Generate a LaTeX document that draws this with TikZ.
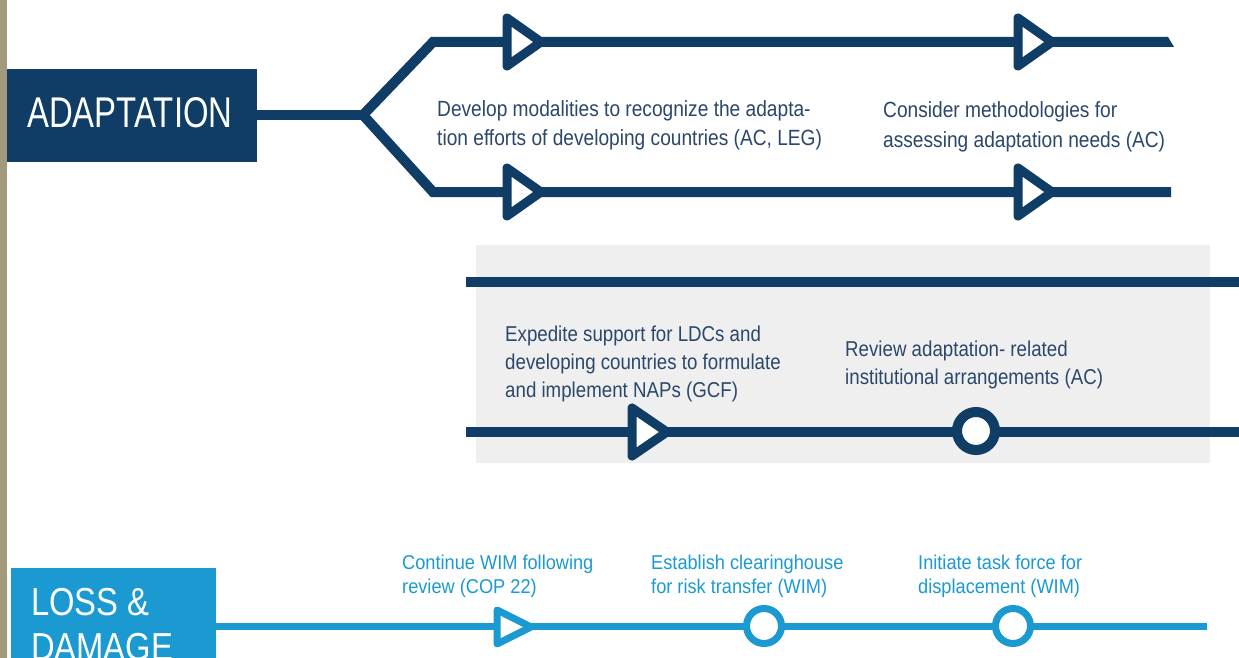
\documentclass[tikz,border=0pt]{standalone}
\usepackage{fontspec}
\setmainfont{Liberation Sans}
\newfontfamily\bodyf[FakeStretch=0.87]{Liberation Sans}
\newfontfamily\lossf[FakeStretch=0.91]{Liberation Sans}
\newfontfamily\titlef[FakeStretch=0.765]{Liberation Sans}
\newfontfamily\losstitlef[FakeStretch=0.84]{Liberation Sans}
\definecolor{navy}{HTML}{0F3D66}
\definecolor{textnavy}{HTML}{2B476A}
\definecolor{lossblue}{HTML}{1B9AD2}
\definecolor{panelgrey}{HTML}{EFEFEF}
\definecolor{strip}{HTML}{A39A7B}
\newcommand{\mlines}[1]{\begin{tabular}[t]{@{}l@{}}#1\end{tabular}}
\begin{document}
\begin{tikzpicture}[x=1pt,y=-1pt,
  navyline/.style={draw=navy,line width=10pt},
  lossline/.style={draw=lossblue,line width=7pt},
  tri/.style={draw=navy,line width=9pt,fill=white,line join=round},
  losstri/.style={draw=lossblue,line width=7pt,fill=white,line join=round},
  ring/.style={circle,draw=navy,line width=10pt,fill=white,minimum size=38pt,inner sep=0pt},
  lossring/.style={circle,draw=lossblue,line width=7pt,fill=white,minimum size=35pt,inner sep=0pt},
  body/.style={anchor=base west,inner sep=0pt,text=textnavy,font={\bodyf\fontsize{22}{29}\selectfont}},
  losstext/.style={anchor=base west,inner sep=0pt,text=lossblue,font={\lossf\fontsize{20}{24.5}\selectfont}},
  titletext/.style={anchor=base west,inner sep=0pt,text=white},
]
\useasboundingbox (0,0) rectangle (1239,658);
\fill[white] (0,0) rectangle (1239,658);
% left strip
\fill[strip] (0,0) rectangle (7,658);
% grey panel
\fill[panelgrey] (476,245) rectangle (1210,463);

% ADAPTATION box
\node[fill=navy,minimum width=250pt,minimum height=93pt,anchor=north west,inner sep=0pt] (adapt) at (7,69) {};
\node[titletext,font={\titlef\fontsize{43}{45}\selectfont}] (adaptlabel) at (27,128) {ADAPTATION};

% branching lines
\coordinate (fork) at (363,115);
\coordinate (upcorner) at (433,42);
\coordinate (lowcorner) at (433,192);
\coordinate (upend) at (1168,42);
\coordinate (lowend) at (1171,192);
\draw[navyline] (adapt.east |- fork) -- (fork);
\draw[navyline,line join=miter] (fork) -- (upcorner) -- (upend);
\draw[navyline,line join=miter] (fork) -- (lowcorner) -- (lowend);
\fill[navy] (1167,37) -- (1168,37) -- (1174,47) -- (1167,47) -- cycle;

% triangles on the branches
\draw[tri] (507,18) -- (507,66) -- (541,42) -- cycle;
\draw[tri] (1018,18) -- (1018,66) -- (1052,42) -- cycle;
\draw[tri] (507,168) -- (507,216) -- (541,192) -- cycle;
\draw[tri] (1018,168) -- (1018,216) -- (1052,192) -- cycle;

\node[body] (t1) at (437,117) {\mlines{Develop modalities to recognize the adapta-\\tion efforts of developing countries (AC, LEG)}};
\node[body] (t2) at (883,118) {\mlines{Consider methodologies for\\assessing adaptation needs (AC)}};

% panel lines
\coordinate (p1a) at (466,282);
\coordinate (p1b) at (1239,282);
\coordinate (p2a) at (466,432);
\coordinate (p2b) at (1239,432);
\draw[navyline] (p1a) -- (p1b);
\draw[navyline] (p2a) -- (p2b);
\draw[tri] (632,408) -- (632,456) -- (667,432) -- cycle;
\node[ring] (r1) at (976,431) {};

\node[body,font={\bodyf\fontsize{21.5}{28}\selectfont}] (t3) at (505,341) {\mlines{Expedite support for LDCs and\\developing countries to formulate\\and implement NAPs (GCF)}};
\node[body,font={\bodyf\fontsize{21.5}{28.5}\selectfont}] (t4) at (845,356) {\mlines{Review adaptation- related\\institutional arrangements (AC)}};

% LOSS & DAMAGE
\node[fill=lossblue,minimum width=205pt,minimum height=100pt,anchor=north west,inner sep=0pt] (loss) at (11,568) {};
\node[titletext,font={\losstitlef\fontsize{39}{45}\selectfont}] (losslabel) at (31,615) {\mlines{LOSS \&\\DAMAGE}};
\coordinate (lossend) at (1207,626);
\draw[lossline] (loss.east |- lossend) -- (lossend);
\draw[losstri] (497,610) -- (497,644) -- (531,627) -- cycle;
\node[lossring] (lr1) at (764,626) {};
\node[lossring] (lr2) at (1013,626) {};

\node[losstext] (l1) at (402,569) {\mlines{Continue WIM following\\review (COP 22)}};
\node[losstext] (l2) at (651,569) {\mlines{Establish clearinghouse\\for risk transfer (WIM)}};
\node[losstext] (l3) at (918,569) {\mlines{Initiate task force for\\displacement (WIM)}};
\end{tikzpicture}
\end{document}
